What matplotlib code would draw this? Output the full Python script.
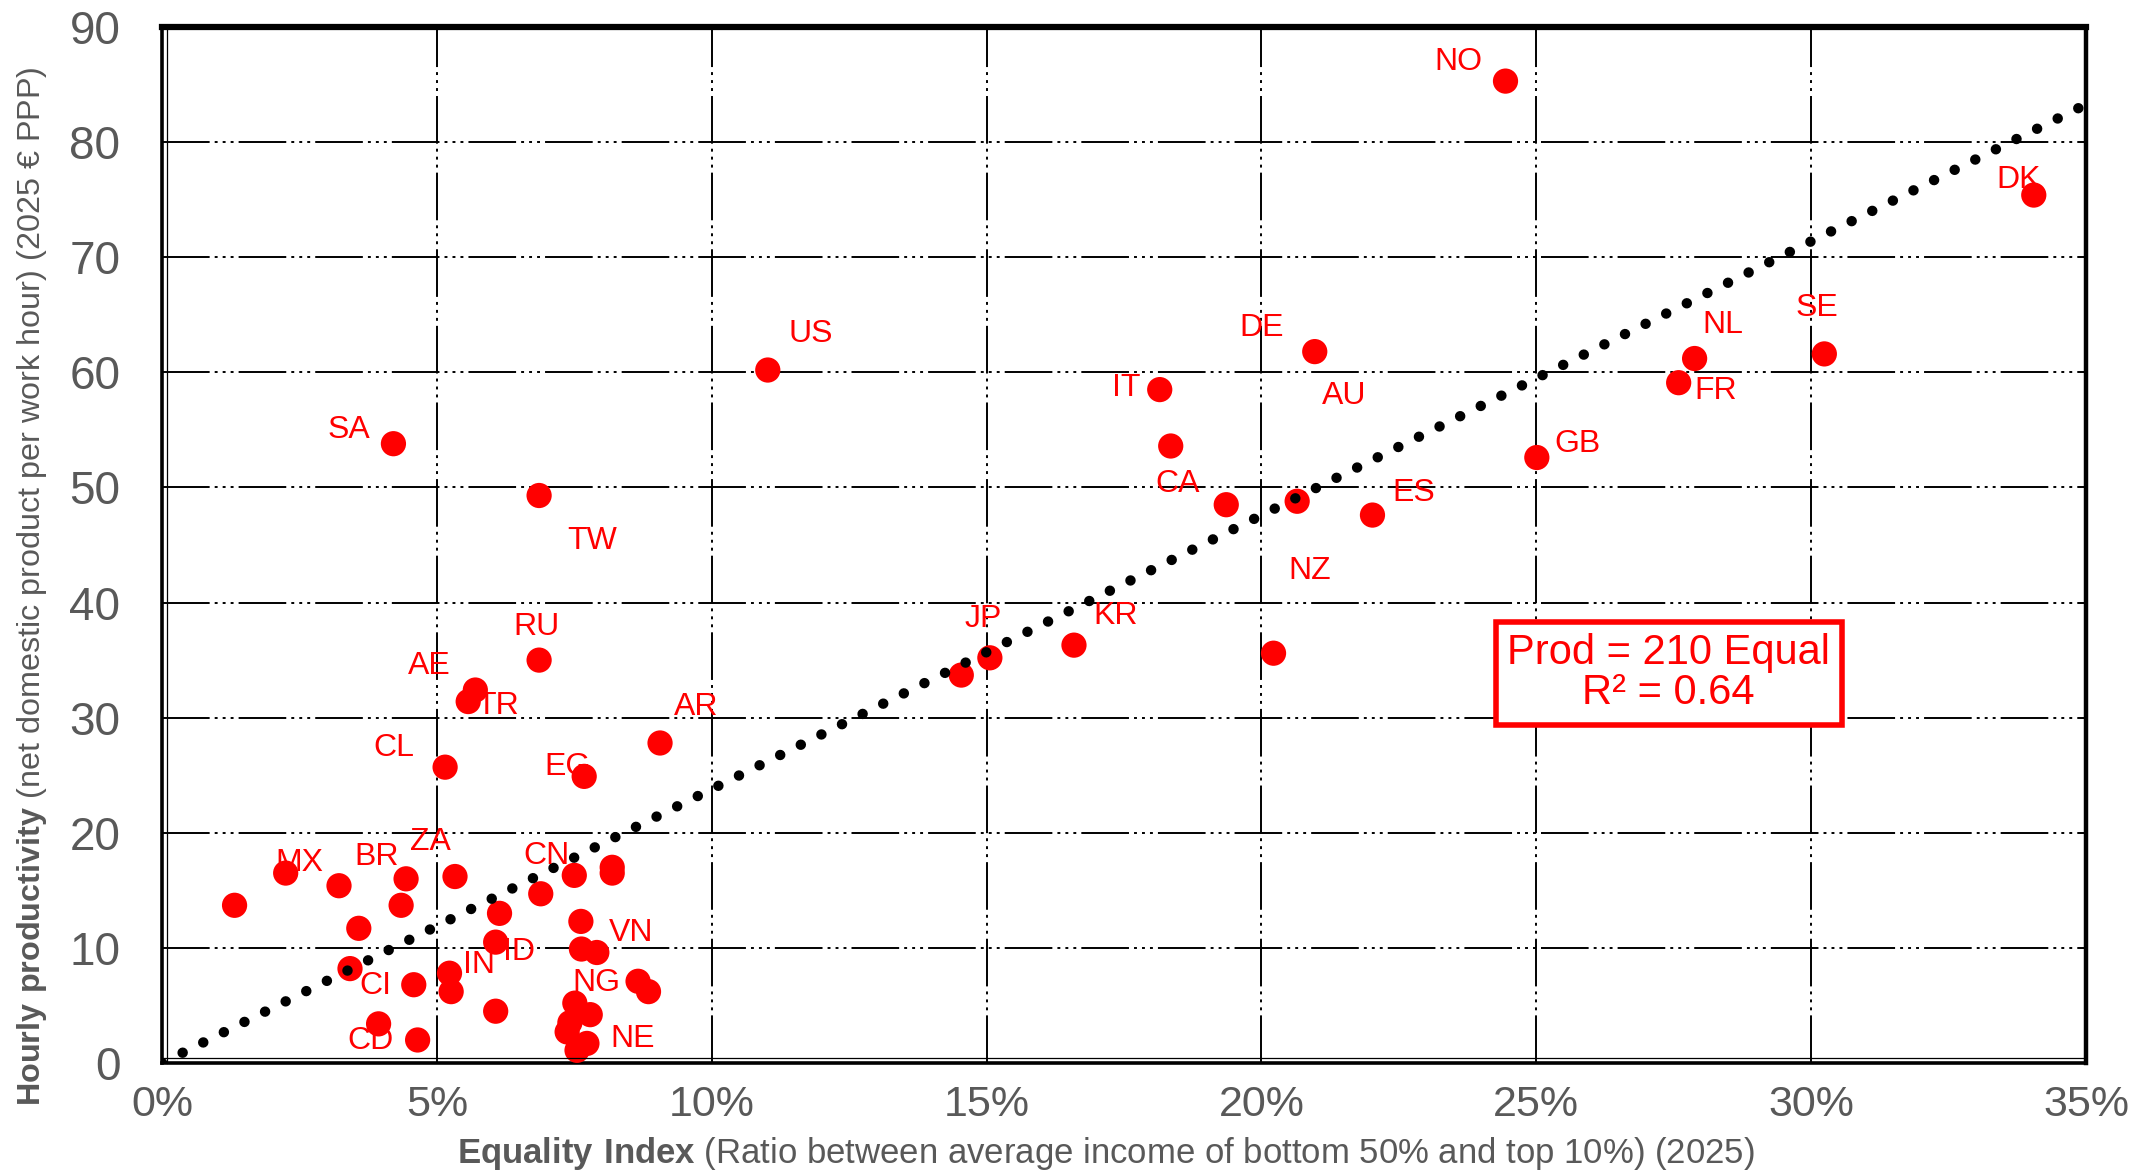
import numpy as np
import matplotlib
matplotlib.use("Agg")
import matplotlib.pyplot as plt
from matplotlib.transforms import offset_copy

# Country codes ("" = unlabelled point)
codes = [
    "NO", "DK", "SE", "NL", "FR", "GB", "DE", "IT", "", "CA", "AU", "ES", "NZ",
    "KR", "JP", "", "US", "SA", "TW", "RU", "AE", "TR", "AR", "CL", "EG",
    "", "MX", "", "BR", "", "", "ZA", "", "CI", "CD", "", "", "IN", "", "ID",
    "", "", "CN", "", "", "", "", "VN", "NG", "", "", "", "", "", "NE", "",
]

# Equality index (%): average income of bottom 50% / top 10%
equality = [
    24.44, 34.05, 30.24, 27.88, 27.59, 25.01, 20.97, 18.15, 18.35, 19.36, 20.65, 22.02, 20.22,
    16.59, 15.06, 14.54, 11.02, 4.21, 6.86, 6.86, 5.70, 5.57, 9.06, 5.15, 7.68,
    1.32, 2.25, 3.22, 4.44, 4.35, 3.58, 5.33, 3.42, 4.58, 3.94, 4.65, 5.23, 5.26, 6.14, 6.07,
    6.07, 6.89, 7.50, 8.19, 8.19, 7.62, 7.63, 7.91, 8.66, 8.85, 7.51, 7.79, 7.42, 7.37, 7.73, 7.55,
]

# Hourly productivity (2025 EUR PPP)
productivity = [
    85.3, 75.4, 61.6, 61.2, 59.1, 52.6, 61.8, 58.5, 53.6, 48.5, 48.8, 47.6, 35.6,
    36.3, 35.2, 33.7, 60.2, 53.8, 49.3, 35.0, 32.4, 31.4, 27.8, 25.7, 24.9,
    13.7, 16.5, 15.4, 16.0, 13.7, 11.7, 16.2, 8.2, 6.8, 3.4, 2.0, 7.8, 6.2, 13.0, 10.5,
    4.5, 14.7, 16.3, 17.0, 16.5, 12.3, 9.9, 9.6, 7.1, 6.2, 5.2, 4.2, 3.5, 2.7, 1.7, 1.1,
]

x_ticks = [0, 5, 10, 15, 20, 25, 30, 35]
y_ticks = [0, 10, 20, 30, 40, 50, 60, 70, 80, 90]

fit_text = "Prod = 210 Equal\nR\u00b2 = 0.64"

# Label placement (offset from the point, in points)
label_offsets = {
    "NO": (-34, 14), "DK": (-11, 11), "SE": (-5, 33), "NL": (20, 24), "FR": (27, -6),
    "GB": (29, 10), "DE": (-38, 17), "IT": (-24, 1), "CA": (-35, 15), "AU": (34, 76),
    "ES": (30, 16), "NZ": (26, 59), "KR": (30, 21), "JP": (-5, 28), "US": (31, 26),
    "SA": (-32, 10), "TW": (38, -33), "RU": (-2, 24), "AE": (-33, 17), "TR": (21, -3),
    "AR": (26, 26), "CL": (-37, 14), "EG": (-12, 7), "MX": (10, 7), "BR": (-21, 16),
    "ZA": (-18, 25), "CI": (-28, -1), "CD": (-6, -12), "IN": (20, 19), "ID": (17, -7),
    "CN": (-20, 14), "VN": (25, 14), "NG": (-30, -1), "NE": (33, 3),
}

RED = "#FF0000"
GREY = "#595959"
FONT = ["Liberation Sans", "DejaVu Sans"]

plt.rcParams["font.family"] = FONT
plt.rcParams["mathtext.fontset"] = "custom"
plt.rcParams["mathtext.bf"] = "Liberation Sans:bold"
plt.rcParams["mathtext.rm"] = "Liberation Sans"

fig = plt.figure(figsize=(21.34, 11.73), dpi=100)
ax = fig.add_axes([162 / 2134, 1 - 1063 / 1173, 1924 / 2134, 1036 / 1173])

ax.set_xlim(0, 35)
ax.set_ylim(0, 90)
ax.set_xticks(x_ticks)
ax.set_yticks(y_ticks)
ax.set_xticklabels([f"{t}%" for t in x_ticks])
ax.set_yticklabels([str(t) for t in y_ticks])
ax.tick_params(axis="both", length=0, colors=GREY)
ax.tick_params(axis="y", pad=30, labelsize=33)
ax.tick_params(axis="x", pad=16, labelsize=31)

# dash-dot-dot gridlines
ax.set_axisbelow(True)
grid_dash = (0, (24.5, 2.6, 1.5, 2.6, 1.5, 2.6, 1.5, 2.6))
ax.grid(True, color="black", linewidth=1.4, linestyle=grid_dash)

for side, sp in ax.spines.items():
    sp.set_color("black")
    sp.set_linewidth(2.6)
ax.spines["top"].set_linewidth(4.5)
ax.spines["right"].set_linewidth(3.2)

# thin inner line of the double frame on left and bottom
inner_left = offset_copy(ax.transAxes, fig=fig, x=5, y=0, units="dots")
inner_bottom = offset_copy(ax.transAxes, fig=fig, x=0, y=5, units="dots")
ax.plot([0, 0], [0, 1], transform=inner_left, color="black", lw=0.9, clip_on=False, zorder=5)
ax.plot([0, 1], [0, 0], transform=inner_bottom, color="black", lw=0.9, clip_on=False, zorder=5)

x = np.asarray(equality)
y = np.asarray(productivity)
ax.scatter(x, y, s=330, color=RED, edgecolors="none", zorder=3)

# least-squares trend through the origin
slope = np.sum(x * y) / np.sum(x * x)
tx = np.array(ax.get_xlim())
ax.plot(tx, slope * tx, color="black", lw=7.5, linestyle=(0, (0.01, 2.2)),
        dash_capstyle="round", zorder=4)

for c, xi, yi in zip(codes, x, y):
    if not c:
        continue
    dx, dy = label_offsets[c]
    ax.annotate(c, (xi, yi), xytext=(dx, dy), textcoords="offset points",
                ha="center", va="center", fontsize=23, color=RED, zorder=6)

ax.text(27.41, 33.85, fit_text, ha="center", va="center", multialignment="center",
        fontsize=30, color=RED, linespacing=1.0, zorder=7,
        bbox=dict(boxstyle="square,pad=0.28", facecolor="white", edgecolor=RED, linewidth=4))

fig.text(1106 / 2134, 1 - 1153 / 1173,
         r"$\bf{Equality\ Index}$ (Ratio between average income of bottom 50% and top 10%) (2025)",
         ha="center", va="center", fontsize=25, color=GREY)
fig.text(32 / 2134, 1 - 586 / 1173,
         r"$\bf{Hourly\ productivity}$ (net domestic product per work hour) (2025 € PPP)",
         ha="center", va="center", rotation=90, fontsize=23.3, color=GREY)

fig.savefig("out.png", dpi=100)
